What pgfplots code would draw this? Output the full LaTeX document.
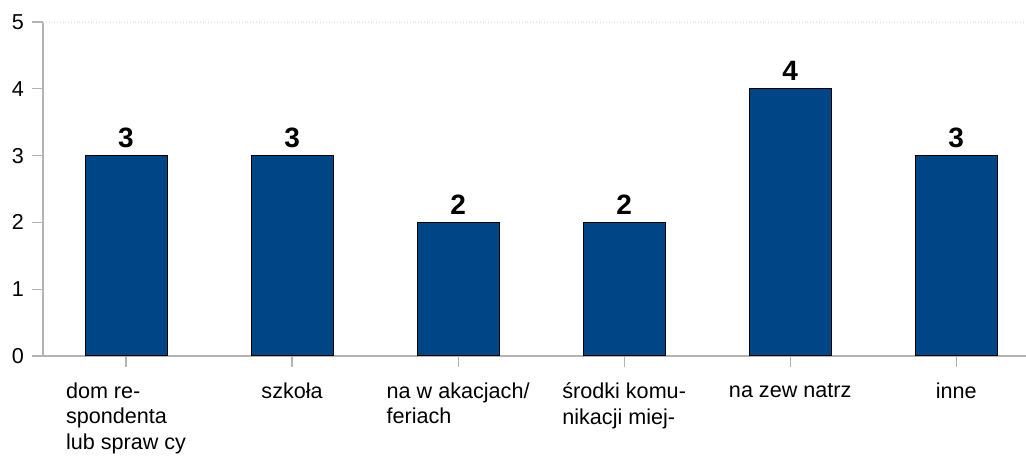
\documentclass[border=0pt]{standalone}
\usepackage{pgfplots}
\pgfplotsset{compat=1.18}
\usepackage{fontspec}
\setmainfont{Liberation Sans}
\definecolor{barblue}{HTML}{004586}
\definecolor{axgray}{HTML}{B3B3B3}
\begin{document}
\begin{tikzpicture}
\useasboundingbox (-21.5pt,-51pt) rectangle (491.5pt,178pt);
\begin{axis}[
  anchor=south west, at={(0,0)},
  scale only axis,
  width=491.5pt, height=167pt,
  xmin=-0.5, xmax=5.42,
  ymin=0, ymax=5,
  axis x line=bottom, axis y line=left,
  axis line style={axgray, line width=0.6pt, -},
  ytick={0,1,2,3,4,5},
  xtick={0,1,2,3,4,5},
  xticklabels={{dom re-\\spondenta\\lub spraw cy},{szkoła},{na w akacjach/\\feriach},{środki komu-\\nikacji miej-},{na zew natrz},{inne}},
  tick style={axgray, line width=0.6pt},
  major tick length=5.5pt,
  tick align=outside,
  /pgf/number format/assume math mode=true,
  yticklabel style={font=\fontsize{10.8}{12}\selectfont, xshift=-0.5pt},
  xticklabel style={font=\fontsize{10.8}{12.6}\selectfont, align=left, anchor=north, yshift=-4.5pt},
  extra y ticks={5},
  extra y tick labels={},
  extra y tick style={grid=major, major grid style={densely dotted, color=blue!10, line width=0.8pt}, tick style={draw=none}},
  ybar, bar width=41pt,
  nodes near coords,
  nodes near coords style={font=\fontsize{14}{16}\selectfont\bfseries, anchor=south, yshift=0.5pt},
  clip=false,
]
\addplot[fill=barblue, draw=black, line width=0.5pt] coordinates {(0,3) (1,3) (2,2) (3,2) (4,4) (5,3)};
\end{axis}
\end{tikzpicture}
\end{document}
